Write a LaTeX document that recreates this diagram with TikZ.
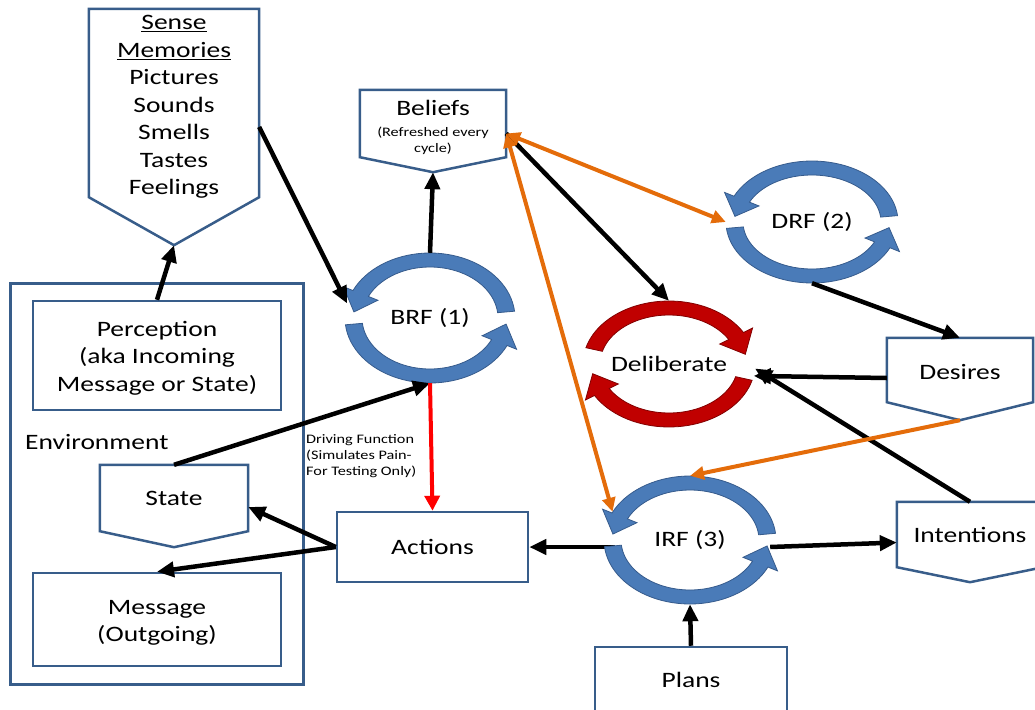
\documentclass[tikz,border=0pt]{standalone}
\usepackage{fontspec}
\setmainfont{Carlito}[FakeStretch=1.25]
\usetikzlibrary{arrows.meta,calc,shapes.geometric}

\definecolor{boxblue}{RGB}{56,93,138}
\definecolor{arcblue}{RGB}{74,123,184}
\definecolor{arcedge}{RGB}{54,91,140}
\definecolor{arcred}{RGB}{192,0,0}
\definecolor{arcrededge}{RGB}{130,0,0}
\definecolor{linkorange}{RGB}{228,108,10}

\newcommand\bigfont{\fontsize{22}{27.5}\selectfont}
\newcommand\notefont{\fontsize{13}{16}\selectfont}

% curved block arrow on an ellipse: centre (#1,#2), outer radii #3/#4,
% band from angle #5 to #6, head from #6 to tip angle #7, style #8
\newcommand\cyclearc[8]{%
  \filldraw[#8] plot[domain=#5:#6,samples=40] ({#1+(#3)*cos(\x)},{#2+(#4)*sin(\x)})
    -- ({#1+(#3+10.5)*cos(#6)},{#2+(#4+9)*sin(#6)})
    -- ({#1+(#3-8.5)*cos(#7)},{#2+(#4-7)*sin(#7)})
    -- ({#1+(#3-27.5)*cos(#6)},{#2+(#4-23)*sin(#6)})
    -- plot[domain=#6:#5,samples=40] ({#1+(#3-17)*cos(\x)},{#2+(#4-14)*sin(\x)})
    -- cycle;}

\tikzset{
  frame/.style={draw=boxblue, line width=2.5pt},
  box/.style={frame, inner sep=0pt},
  pent/.style={inner sep=0pt, align=center, font=\bigfont},
  caption/.style={inner sep=0pt, align=center, font=\bigfont},
  cyc/.style={ellipse, inner sep=0pt, font=\bigfont},
  bluearc/.style={fill=arcblue, draw=arcedge, line width=0.8pt},
  redarc/.style={fill=arcred, draw=arcrededge, line width=0.8pt},
  flow/.style={line width=4.5pt, -{Triangle[length=17pt,width=15pt]}},
  redflow/.style={draw=red, line width=4pt, -{Triangle[length=15pt,width=15pt]}},
  link/.style={draw=linkorange, line width=4pt,
    {Triangle[length=14pt,width=13pt]}-{Triangle[length=14pt,width=13pt]}},
  onelink/.style={draw=linkorange, line width=4pt, -{Triangle[length=14pt,width=13pt]}},
}

\begin{document}
\begin{tikzpicture}[x=1pt,y=-1pt]
\useasboundingbox (0,0) rectangle (1035,709);
\clip (0,0) rectangle (1035,709);

% environment group
\node[box, line width=3pt, minimum width=293pt, minimum height=401pt] (env) at (156.5,483.5) {};
\node[anchor=west, font=\bigfont, inner sep=0pt] (envlabel) at (25,442) {Environment};
\node[box, minimum width=248pt, minimum height=109pt] (perception) at (157,355.5) {};
\node[caption] (perception-text) at (157,358) {Perception\\(aka Incoming\\Message or State)};
\node[pent, minimum width=148pt, minimum height=66pt] (state) at (174,498) {State};
\node[box, minimum width=248pt, minimum height=93pt] (message) at (157,619.5) {};
\node[caption] (message-text) at (157,623) {Message\\(Outgoing)};

% memory and attitude boxes
\node[pent, minimum width=170pt, minimum height=188pt] (sense) at (174,103) {};
\node[caption] (sense-text) at (174,107)
  {\underline{Sense}\\\underline{Memories}\\Pictures\\Sounds\\Smells\\Tastes\\Feelings};
\node[pent, minimum width=146pt, minimum height=67pt] (beliefs) at (433,123.5) {};
\node[caption] (beliefs-title) at (433,108) {Beliefs};
\node[caption, font=\notefont] (beliefs-note) at (433,140.5) {(Refreshed every\\cycle)};
\node[pent, minimum width=146pt, minimum height=64pt] (desires) at (960,370) {};
\node[caption] (desires-text) at (960,372) {Desires};
\node[pent, minimum width=146pt, minimum height=65pt] (intentions) at (970,534.5) {Intentions};
\node[box, font=\bigfont, minimum width=191pt, minimum height=70pt] (actions) at (432.5,547) {Actions};
\node[box, font=\bigfont, minimum width=192pt, minimum height=66pt] (plans) at (691,680) {Plans};

\coordinate (sense-tip) at ($(sense.south)+(0,48)$);
\coordinate (beliefs-tip) at ($(beliefs.south)+(0,15)$);
\coordinate (state-tip) at ($(state.south)+(0,16)$);
\coordinate (desires-tip) at ($(desires.south)+(0,18)$);
\coordinate (intentions-tip) at ($(intentions.south)+(0,15)$);

\foreach \n in {sense,beliefs,state,desires,intentions}
  \draw[frame] (\n.north west) -- (\n.north east) -- (\n.south east)
    -- (\n-tip) -- (\n.south west) -- cycle;

% revision cycles
\node[cyc, minimum width=170pt, minimum height=130pt] (brf) at (430,318) {BRF (1)};
\node[cyc, minimum width=172pt, minimum height=122pt] (drf) at (812,222) {DRF (2)};
\node[cyc, minimum width=172pt, minimum height=128pt] (irf) at (690,540) {IRF (3)};
\node[cyc, minimum width=172pt, minimum height=126pt] (delib) at (669,364) {Deliberate};

% lines that start inside the IRF ring
\draw[flow] ($(irf.west)+(11,7)$) -- (actions.east);
\draw[flow] ($(irf.east)+(-6,7)$) -- ($(intentions.west)+(0,8)$);

\cyclearc{430}{318}{85}{65}{354}{205}{186}{bluearc}
\cyclearc{430}{318}{85}{65}{174}{25}{6}{bluearc}
\cyclearc{812}{222}{86}{61}{354}{205}{186}{bluearc}
\cyclearc{812}{222}{86}{61}{174}{25}{6}{bluearc}
\cyclearc{690}{540}{86}{64}{354}{205}{186}{bluearc}
\cyclearc{690}{540}{86}{64}{174}{25}{6}{bluearc}
\cyclearc{669}{364}{86}{63}{195}{330}{350}{redarc}
\cyclearc{669}{364}{86}{63}{15}{150}{170}{redarc}

\node[anchor=north west, font=\notefont, align=left, inner sep=0pt] (driving) at (306,434)
  {Driving Function\\(Simulates Pain-\\For Testing Only)};

% connectors
\draw[flow] (perception.north) -- (sense-tip);
\draw[flow] ($(sense.east)+(0,24)$) -- (brf.170);
\draw[flow] (brf.north) -- (beliefs-tip);
\draw[flow] (state.north) -- (brf.south);
\draw[redflow] (brf.south) -- (actions.north);
\draw[flow] (actions.west) -- ($(state.east)+(0,9)$);
\draw[flow] (actions.west) -- (message.north);
\draw[flow] (plans.north) -- (irf.south);
\draw[flow] ($(beliefs.east)+(0,10)$) -- (delib.north);
\draw[link] ($(beliefs.east)+(0,10)$) -- (drf.west);
\draw[link] ($(beliefs.east)+(0,10)$) -- (irf.160);
\draw[flow] (drf.south) -- (desires.north);
\draw[flow] ($(desires.west)+(0,8)$) -- (delib.-8);
\draw[flow] (intentions.north) -- (delib.-3);
\draw[onelink] (desires-tip) -- (irf.north);
\end{tikzpicture}
\end{document}
